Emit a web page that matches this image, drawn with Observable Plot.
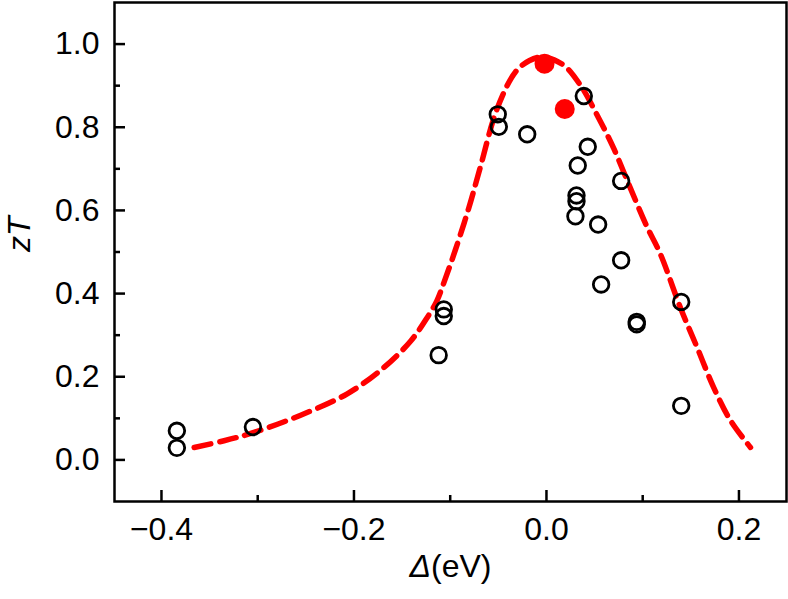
<!DOCTYPE html>
<html><head><meta charset="utf-8">
<script src="https://cdn.jsdelivr.net/npm/d3@7"></script>
<script src="https://cdn.jsdelivr.net/npm/@observablehq/plot@0.6"></script>
<style>body{margin:0;background:#fff} #chart svg{display:block}</style>
</head><body><div id="chart"></div>
<script>
// Tick values
const xTicks = [-0.4, -0.2, 0.0, 0.2];
const xMinor = [-0.3, -0.1, 0.1];
const yTicks = [0.0, 0.2, 0.4, 0.6, 0.8, 1.0];
const yMinor = [0.1, 0.3, 0.5, 0.7, 0.9];

// Open circles (measured zT vs Δ)
const openX = [-0.384, -0.384, -0.305, -0.112, -0.1067, -0.1067, -0.0506, -0.0495, -0.020, 0.0388, 0.0429, 0.0325, 0.0776, 0.0312, 0.0312, 0.0301, 0.0537, 0.0776, 0.0568, 0.0938, 0.0938, 0.140, 0.140];
const openY = [0.070, 0.029, 0.079, 0.252, 0.362, 0.346, 0.831, 0.801, 0.783, 0.875, 0.753, 0.708, 0.671, 0.636, 0.622, 0.586, 0.566, 0.480, 0.422, 0.332, 0.326, 0.380, 0.130];

// Filled red circles
const filledX = [-0.002, 0.019];
const filledY = [0.953, 0.844];

// Dashed red curve
const curveX = [-0.366, -0.335, -0.304, -0.256, -0.207, -0.169, -0.141, -0.124, -0.114, -0.106, -0.0945, -0.0807, -0.0686, -0.0512, -0.0322, -0.018, -0.003, 0.018, 0.0353, 0.0527, 0.0699, 0.0873, 0.1046, 0.1184, 0.1392, 0.1566, 0.1738, 0.1912, 0.212];
const curveY = [0.030, 0.046, 0.066, 0.107, 0.159, 0.222, 0.286, 0.342, 0.382, 0.430, 0.506, 0.606, 0.705, 0.845, 0.933, 0.960, 0.969, 0.949, 0.901, 0.829, 0.749, 0.653, 0.560, 0.495, 0.366, 0.270, 0.174, 0.095, 0.030];

const openData = openX.map((x, i) => ({x, y: openY[i]}));
const filledData = filledX.map((x, i) => ({x, y: filledY[i]}));
const curveData = curveX.map((x, i) => ({x, y: curveY[i]}));

const W = 788, H = 599, mT = 2, mB = 98, mL = 114, mR = 2;
const plotH = H - mT - mB, plotW = W - mL - mR;
const fmt = d3.format(".1f");
const font = "Liberation Sans, Arial, Helvetica, sans-serif";

const chart = Plot.plot({
  width: W, height: H,
  marginTop: mT, marginBottom: mB, marginLeft: mL, marginRight: mR,
  style: {fontFamily: font, background: "white", color: "black"},
  x: {domain: [-0.4488, 0.2494], axis: null},
  y: {domain: [-0.1, 1.1], axis: null},
  marks: [
    Plot.line(curveData, {x: "x", y: "y", stroke: "#ff0000", strokeWidth: 5.5, strokeDasharray: "17,9", curve: "catmull-rom"}),
    Plot.dot(openData, {x: "x", y: "y", r: 7.8, stroke: "black", strokeWidth: 2.8, fill: "none"}),
    Plot.dot(filledData, {x: "x", y: "y", r: 10, fill: "#ff0000", stroke: "none"}),
    Plot.tickX(xTicks, {x: d => d, insetTop: plotH - 11, stroke: "black", strokeWidth: 2.5}),
    Plot.tickX(xMinor, {x: d => d, insetTop: plotH - 6, stroke: "black", strokeWidth: 2.5}),
    Plot.tickY(yTicks, {y: d => d, insetRight: plotW - 11, stroke: "black", strokeWidth: 2.5}),
    Plot.tickY(yMinor, {y: d => d, insetRight: plotW - 6, stroke: "black", strokeWidth: 2.5}),
    Plot.axisX({ticks: xTicks, tickSize: 0, tickPadding: 16, fontSize: 32, tickFormat: fmt, label: null}),
    Plot.axisY({ticks: yTicks, tickSize: 0, tickPadding: 15, fontSize: 32, tickFormat: fmt, label: null}),
    Plot.text(["zT"], {frameAnchor: "left", dx: -95, rotate: -90, fontSize: 32, fontStyle: "italic", fill: "black"}),
    Plot.text(["Δ"], {frameAnchor: "bottom", dx: -19.5, dy: 75, textAnchor: "end", fontSize: 32, fontStyle: "italic", fill: "black"}),
    Plot.text(["(eV)"], {frameAnchor: "bottom", dx: -19.5, dy: 75, textAnchor: "start", fontSize: 32, fill: "black"}),
    Plot.frame({stroke: "black", strokeWidth: 2.5})
  ]
});
document.getElementById("chart").appendChild(chart);
</script>
</body></html>
